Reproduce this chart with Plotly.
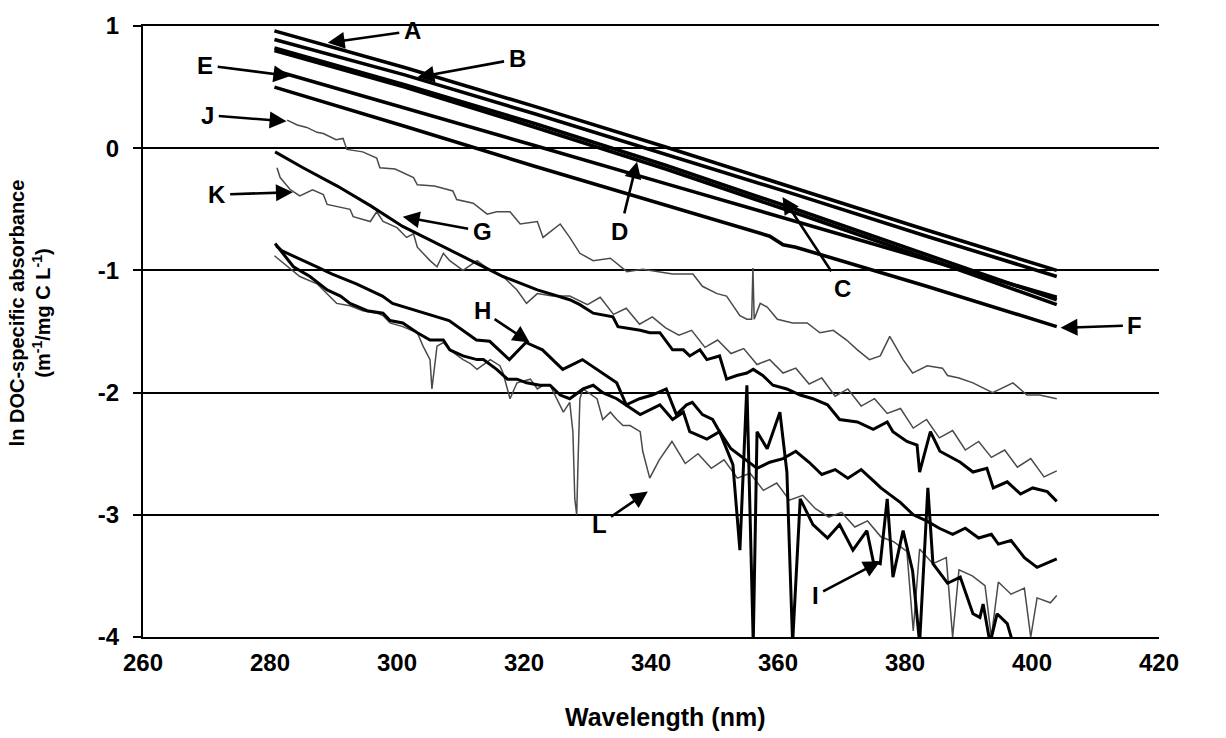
import plotly.graph_objects as go

# ---- smooth spectra (A-F) ----
wl_smooth = [280.7, 301.2, 321.8, 342.3, 362.8, 383.4, 403.9]
A = [0.96, 0.66, 0.34, 0.01, -0.33, -0.67, -1.00]
B = [0.89, 0.60, 0.28, -0.05, -0.38, -0.72, -1.05]
C = [0.82, 0.52, 0.20, -0.14, -0.50, -0.87, -1.24]
D = [0.80, 0.50, 0.17, -0.17, -0.53, -0.90, -1.28]
E = [0.635, 0.33, 0.02, -0.29, -0.60, -0.91, -1.22]
wl_F = [280.7, 301.2, 321.8, 342.3, 358.7, 360.8, 362.8, 383.4, 403.9]
F = [0.50, 0.18, -0.15, -0.47, -0.72, -0.79, -0.81, -1.13, -1.46]

# ---- noisy spectra ----
wl_G = [280.8, 285.2, 290.6, 295.8, 300.9, 306.3, 311.5, 316.7, 322.1, 327.2, 328.8, 330.9,
        334.0, 334.8, 338.3, 339.8, 341.4, 343.4, 345.1, 346.1, 347.7, 348.8, 350.8, 351.9,
        353.5, 355.1, 356.1, 357.6, 359.2, 361.4, 363.5, 365.5, 367.8, 369.7, 372.5, 375.0,
        377.2, 378.1, 380.3, 381.9, 382.3, 384.0, 385.5, 388.7, 390.7, 392.9, 393.9, 396.1,
        398.2, 400.1, 402.4, 403.9]
G = [-0.03, -0.16, -0.31, -0.47, -0.64, -0.78, -0.92, -1.05, -1.16, -1.24, -1.28, -1.35,
     -1.38, -1.46, -1.49, -1.51, -1.51, -1.65, -1.65, -1.70, -1.65, -1.73, -1.70, -1.89,
     -1.86, -1.84, -1.81, -1.86, -1.94, -1.97, -2.02, -2.05, -2.10, -2.22, -2.24, -2.30,
     -2.24, -2.32, -2.40, -2.43, -2.65, -2.32, -2.48, -2.57, -2.65, -2.62, -2.78, -2.73,
     -2.83, -2.78, -2.81, -2.89]

wl_H = [281.0, 281.9, 287.3, 289.8, 293.6, 297.7, 299.3, 303.1, 308.2, 312.5, 314.6, 317.7,
        320.3, 322.9, 326.1, 329.2, 331.4, 334.6, 336.1, 338.2, 340.2, 342.4, 344.0, 345.6,
        346.5, 348.1, 349.7, 350.8, 352.6, 354.6, 356.7, 358.7, 360.8, 362.8, 364.9, 366.9,
        369.0, 371.0, 373.1, 375.2, 376.2, 379.3, 381.3, 383.4, 385.4, 387.5, 389.5, 391.6,
        393.6, 394.7, 396.7, 398.8, 400.8, 403.9]
H = [-0.80, -0.84, -0.97, -1.03, -1.11, -1.21, -1.27, -1.33, -1.41, -1.57, -1.58, -1.73,
     -1.59, -1.65, -1.81, -1.73, -1.81, -1.92, -2.10, -2.05, -2.02, -1.97, -2.18, -2.10,
     -2.08, -2.18, -2.22, -2.32, -2.46, -2.54, -2.62, -2.57, -2.54, -2.48, -2.57, -2.67,
     -2.63, -2.70, -2.63, -2.73, -2.78, -2.90, -3.00, -3.05, -3.11, -3.16, -3.11, -3.19,
     -3.16, -3.24, -3.21, -3.35, -3.43, -3.36]

wl_I = [280.8, 283.7, 286.3, 289.0, 291.1, 292.6, 295.3, 297.8, 298.9, 300.9, 303.2, 305.2,
        307.3, 308.3, 310.4, 312.6, 313.6, 315.7, 317.4, 318.9, 320.4, 322.5, 324.1, 325.7,
        327.2, 329.3, 330.9, 332.4, 334.6, 338.3, 341.4, 343.4, 345.1, 346.1, 348.8, 350.8,
        352.9, 354.0, 355.1, 356.1, 356.7, 358.3, 360.3, 361.4, 362.3, 363.5, 365.5, 367.8,
        369.7, 371.8, 374.0, 375.0, 376.1, 377.2, 378.1, 379.7, 381.2, 382.3, 383.6, 384.4,
        386.7, 388.7, 390.7, 391.8, 392.3, 393.4, 394.5, 396.1, 397.0, 399.8, 403.9]
I = [-0.78, -0.97, -1.05, -1.16, -1.21, -1.27, -1.33, -1.35, -1.41, -1.43, -1.51, -1.57,
     -1.57, -1.65, -1.70, -1.73, -1.73, -1.81, -1.89, -1.89, -1.92, -1.94, -1.94, -2.02,
     -2.05, -1.97, -1.94, -2.00, -2.05, -2.18, -2.10, -2.22, -2.16, -2.32, -2.38, -2.32,
     -2.59, -3.29, -1.94, -4.05, -2.32, -2.46, -2.16, -2.65, -4.05, -2.87, -3.08, -3.19,
     -3.08, -3.29, -3.13, -3.38, -3.40, -2.87, -3.51, -3.13, -3.46, -4.05, -2.78, -3.40,
     -3.56, -3.51, -3.81, -3.84, -3.73, -4.05, -3.81, -3.89, -4.05, -4.30, -4.40]

wl_J = [282.7, 284.3, 285.8, 287.4, 288.4, 290.4, 291.5, 292.1, 294.6, 296.8, 297.3, 299.7,
        302.6, 303.2, 305.9, 308.8, 309.4, 312.0, 314.2, 315.7, 317.8, 319.4, 322.1, 323.0,
        325.7, 327.2, 328.8, 330.9, 333.6, 336.2, 338.7, 341.0, 343.4, 346.6, 348.1, 350.4,
        351.9, 354.0, 355.1, 355.85, 356.05, 356.25, 357.2, 358.3, 359.9, 362.3, 364.6, 366.6,
        368.7, 370.8, 372.5, 374.4, 376.1, 377.6, 379.7, 381.2, 383.5, 385.9, 386.7, 388.5,
        390.7, 393.8, 397.0, 399.2, 401.2, 403.9]
J = [0.23, 0.19, 0.17, 0.13, 0.12, 0.07, 0.08, -0.01, -0.03, -0.08, -0.16, -0.17,
     -0.24, -0.30, -0.31, -0.35, -0.42, -0.45, -0.54, -0.52, -0.52, -0.62, -0.60, -0.73,
     -0.62, -0.73, -0.86, -0.92, -0.90, -1.01, -0.99, -1.01, -1.03, -1.03, -1.13, -1.19,
     -1.21, -1.37, -1.40, -1.40, -0.98, -1.40, -1.27, -1.30, -1.40, -1.43, -1.43, -1.51,
     -1.49, -1.57, -1.65, -1.73, -1.70, -1.54, -1.73, -1.84, -1.78, -1.80, -1.86, -1.88,
     -1.92, -2.00, -1.92, -2.02, -2.02, -2.05]

wl_K = [281.1, 281.6, 283.2, 284.7, 286.7, 288.4, 289.0, 292.6, 293.1, 295.8, 296.8, 297.8,
        300.0, 301.5, 302.6, 303.2, 305.2, 306.3, 307.3, 308.3, 310.4, 312.6, 314.7, 316.7,
        318.9, 320.4, 322.1, 324.5, 327.2, 330.0, 332.0, 334.1, 336.1, 338.2, 340.2, 342.3,
        344.4, 346.4, 348.5, 350.5, 352.6, 354.6, 356.7, 358.7, 360.8, 362.8, 364.9, 366.9,
        369.0, 371.0, 373.1, 375.2, 377.2, 379.3, 381.3, 383.4, 385.4, 387.5, 389.5, 391.6,
        393.6, 395.7, 397.7, 399.8, 401.9, 403.9]
K = [-0.16, -0.24, -0.34, -0.39, -0.34, -0.38, -0.46, -0.50, -0.56, -0.60, -0.52, -0.60,
     -0.65, -0.73, -0.70, -0.81, -0.92, -0.97, -0.86, -0.92, -1.00, -0.92, -1.00, -1.05,
     -1.16, -1.27, -1.19, -1.21, -1.21, -1.28, -1.22, -1.36, -1.31, -1.44, -1.38, -1.47,
     -1.53, -1.49, -1.63, -1.57, -1.68, -1.64, -1.77, -1.73, -1.84, -1.80, -1.93, -1.88,
     -2.03, -1.97, -2.11, -2.05, -2.17, -2.13, -2.29, -2.22, -2.37, -2.31, -2.47, -2.40,
     -2.53, -2.47, -2.61, -2.54, -2.69, -2.64]

wl_L = [280.7, 284.7, 287.4, 289.4, 290.5, 292.6, 294.6, 296.8, 297.8, 298.9, 300.9, 303.2,
        304.1, 305.2, 305.5, 306.3, 307.3, 308.3, 310.4, 311.5, 312.6, 314.7, 316.2, 316.7,
        317.8, 318.9, 321.0, 322.1, 323.0, 324.1, 325.2, 326.2, 327.2, 327.7, 328.0, 328.3,
        328.5, 328.8, 329.3, 331.5, 332.4, 333.6, 334.6, 335.6, 336.7, 338.3, 338.7, 339.8,
        341.3, 343.3, 345.4, 347.4, 349.5, 351.5, 353.6, 355.6, 357.7, 359.8, 361.8, 363.9,
        365.9, 368.0, 370.0, 372.1, 374.1, 376.2, 378.2, 380.3, 381.3, 382.3, 384.4, 386.5,
        387.5, 388.5, 390.6, 392.6, 393.6, 394.7, 396.7, 398.8, 399.8, 400.8, 402.9, 403.9]
L = [-0.88, -1.05, -1.11, -1.21, -1.27, -1.29, -1.33, -1.35, -1.37, -1.43, -1.46, -1.51,
     -1.62, -1.73, -1.97, -1.62, -1.59, -1.65, -1.73, -1.76, -1.81, -1.73, -1.78, -1.84,
     -2.05, -1.92, -1.89, -1.97, -1.94, -1.94, -2.05, -2.16, -2.08, -2.32, -2.87, -3.00,
     -2.59, -2.05, -1.97, -2.05, -2.22, -2.16, -2.22, -2.27, -2.27, -2.32, -2.48, -2.70,
     -2.55, -2.40, -2.58, -2.50, -2.62, -2.55, -2.70, -2.66, -2.80, -2.74, -2.88, -2.84,
     -2.95, -3.02, -2.98, -3.10, -3.05, -3.18, -3.22, -3.30, -3.95, -3.28, -3.40, -3.35,
     -4.00, -3.45, -3.50, -3.58, -4.00, -3.55, -3.65, -3.60, -4.00, -3.68, -3.72, -3.66]

x_ticks = [260, 280, 300, 320, 340, 360, 380, 400, 420]
y_ticks = [1, 0, -1, -2, -3, -4]
y_tick_text = ["1", "0", "-1", "-2", "-3", "-4"]

FONT = "Liberation Sans"

fig = go.Figure()

thick = dict(color="black", width=3.6)
thin = dict(color="#4a4a4a", width=1.5)

for wl, vals in [(wl_smooth, A), (wl_smooth, B), (wl_smooth, C), (wl_smooth, D),
                 (wl_smooth, E), (wl_F, F)]:
    fig.add_trace(go.Scatter(x=wl, y=vals, mode="lines", line=thick, showlegend=False,
                             hoverinfo="skip"))

for wl, vals in [(wl_J, J), (wl_K, K), (wl_L, L)]:
    fig.add_trace(go.Scatter(x=wl, y=vals, mode="lines", line=thin, showlegend=False,
                             hoverinfo="skip"))

for wl, vals in [(wl_G, G), (wl_H, H), (wl_I, I)]:
    fig.add_trace(go.Scatter(x=wl, y=vals, mode="lines", line=dict(color="black", width=3),
                             showlegend=False, hoverinfo="skip"))

# letter labels: (text, text_x, text_y, arrow head x, head y)
labels = [
    ("A", 302.4, 0.96, 289.1, 0.862),
    ("B", 318.9, 0.73, 303.2, 0.58),
    ("E", 269.8, 0.68, 283.2, 0.59),
    ("J", 270.2, 0.27, 282.6, 0.22),
    ("K", 271.6, -0.38, 283.6, -0.36),
    ("G", 313.4, -0.68, 300.9, -0.56),
    ("D", 335.1, -0.68, 337.8, -0.11),
    ("C", 370.2, -1.15, 360.7, -0.40),
    ("H", 313.4, -1.33, 320.9, -1.59),
    ("L", 331.9, -3.08, 339.5, -2.81),
    ("I", 365.9, -3.66, 376.1, -3.38),
    ("F", 416.2, -1.45, 404.5, -1.47),
]

annotations = []
for t, tx, ty, hx, hy in labels:
    annotations.append(dict(
        x=hx, y=hy, ax=tx, ay=ty, xref="x", yref="y", axref="x", ayref="y",
        text=t, showarrow=True, arrowhead=2, arrowsize=1.3, arrowwidth=2.6,
        arrowcolor="black", startstandoff=3,
        font=dict(family=FONT, size=24, color="black", weight="bold")))

annotations.append(dict(
    x=-0.111, y=0.53, xref="paper", yref="paper", xanchor="center", yanchor="middle",
    textangle=-90, showarrow=False,
    text="ln DOC-specific absorbance<br>(m<sup>-1</sup>/mg C L<sup>-1</sup>)",
    font=dict(family=FONT, size=20, color="black", weight="bold")))
annotations.append(dict(
    x=0.514, y=-0.131, xref="paper", yref="paper", xanchor="center", yanchor="middle",
    showarrow=False, text="Wavelength (nm)",
    font=dict(family=FONT, size=25, color="black", weight="bold")))

fig.update_layout(
    width=1226, height=738,
    margin=dict(l=143, r=67, t=20, b=101),
    paper_bgcolor="white", plot_bgcolor="white",
    annotations=annotations,
    xaxis=dict(range=[260, 420], tickvals=x_ticks, showgrid=False, zeroline=False,
               showline=True, linecolor="black", linewidth=2, mirror=True, ticks="",
               ticklabelstandoff=3,
               tickfont=dict(family=FONT, size=24, color="black", weight="bold")),
    yaxis=dict(range=[-4, 1], tickvals=y_ticks, ticktext=y_tick_text, showgrid=True,
               gridcolor="black", gridwidth=2, zeroline=False, showline=True,
               linecolor="black", linewidth=2, ticks="outside", ticklen=8, tickwidth=2,
               tickcolor="black", ticklabelstandoff=9,
               tickfont=dict(family=FONT, size=24, color="black", weight="bold")),
)

fig.write_html("out.html")
